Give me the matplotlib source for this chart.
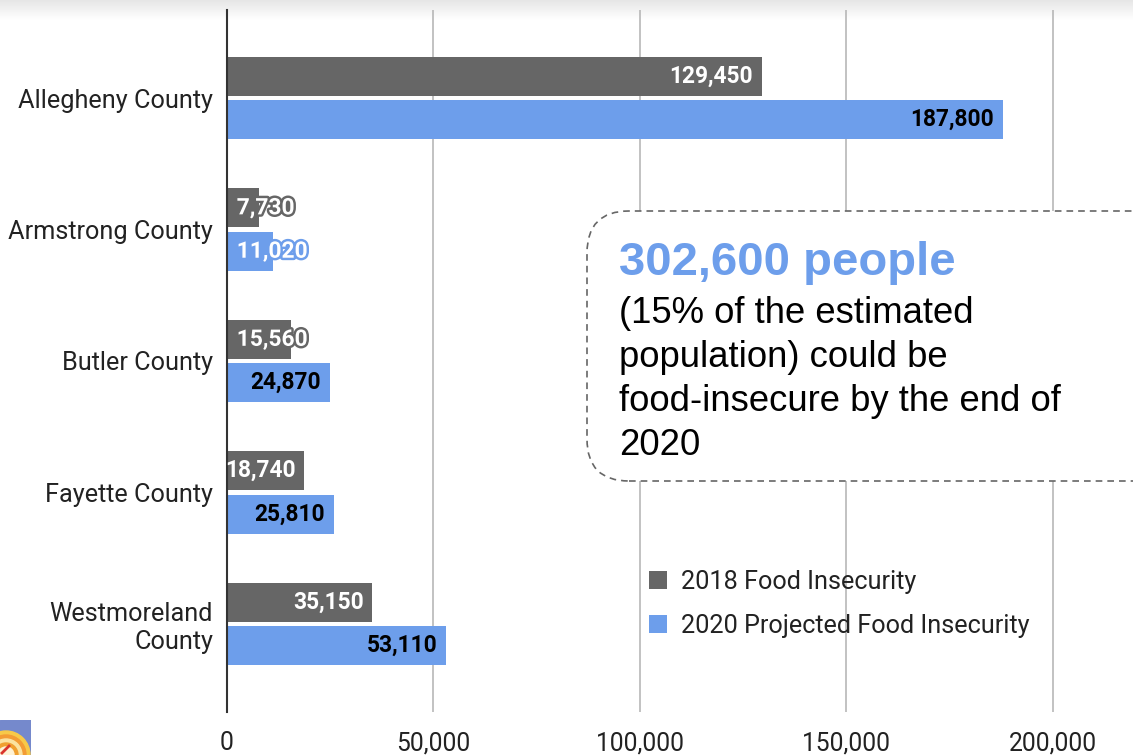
"""Food insecurity by county, 2018 vs projected 2020 (horizontal grouped bars)."""
import matplotlib

matplotlib.use("Agg")
import matplotlib.pyplot as plt
import matplotlib.patheffects as pe
import numpy as np
from matplotlib.patches import FancyBboxPatch, Rectangle, Circle

counties = ["Allegheny County", "Armstrong County", "Butler County",
            "Fayette County", "Westmoreland\nCounty"]
food_2018 = [129450, 7730, 15560, 18740, 35150]
food_2020 = [187800, 11020, 24870, 25810, 53110]
series_names = ["2018 Food Insecurity", "2020 Projected Food Insecurity"]
x_ticks = [0, 50000, 100000, 150000, 200000]
callout_head = "302,600 people"
callout_lines = ["(15% of the estimated", "population) could be",
                 "food-insecure by the end of", "2020"]

GRAY = "#666666"
BLUE = "#6d9eeb"
TXT = "#222222"
W, H, DPI = 1133, 755, 100

plt.rcParams["font.family"] = ["Roboto", "DejaVu Sans"]

fig = plt.figure(figsize=(W / DPI, H / DPI), dpi=DPI)

# faint shadow strip along the top edge
shadow = fig.add_axes([0, 1 - 20 / H, 1, 20 / H])
grad = np.linspace(0.90, 1.0, 50).reshape(-1, 1)
shadow.imshow(grad, cmap="gray", vmin=0, vmax=1, aspect="auto",
              extent=(0, 1, 0, 1), origin="upper")
shadow.axis("off")
shadow.set_zorder(-1)

ax = fig.add_axes([227 / W, 1 - 712 / H, 1 - 227 / W, (712 - 10) / H])
ax.set_facecolor("none")

y = np.arange(len(counties))
h = 0.295
off = 0.165
b1 = ax.barh(y - off, food_2018, height=h, color=GRAY, zorder=2, label=series_names[0])
b2 = ax.barh(y + off, food_2020, height=h, color=BLUE, zorder=2, label=series_names[1])

ax.set_xlim(0, 219400)
ax.set_ylim(len(counties) - 0.33, -0.67)
ax.set_xticks(x_ticks, [f"{v:,}" for v in x_ticks], fontsize=17.7, color=TXT)
ax.set_yticks(y, counties, fontsize=18.2, color=TXT, ha="right")
ax.tick_params(axis="both", length=0)
ax.tick_params(axis="y", pad=10)
ax.tick_params(axis="x", pad=14)
ax.grid(axis="x", color="#b7b7b7", lw=1.2)
ax.set_axisbelow(True)
for s in ["top", "right", "bottom"]:
    ax.spines[s].set_visible(False)
ax.spines["left"].set_color("#333333")
ax.spines["left"].set_linewidth(1.5)

# value labels: inside the bar end when they fit, else outlined near the axis
for bars, vals, face, ink in [(b1, food_2018, GRAY, "white"), (b2, food_2020, BLUE, "black")]:
    for bar, v in zip(bars, vals):
        yc = bar.get_y() + bar.get_height() / 2
        if v > 17000:
            ax.annotate(f"{v:,}", (v, yc), xytext=(-6, 0), textcoords="offset points",
                        ha="right", va="center", fontsize=16.4, fontweight="bold",
                        color=ink, zorder=4)
        else:
            ax.annotate(f"{v:,}", (0, yc), xytext=(7, 0), textcoords="offset points",
                        ha="left", va="center", fontsize=16.4, fontweight="bold",
                        color="white", zorder=4,
                        path_effects=[pe.withStroke(linewidth=3.5, foreground=face)])

ax.legend(handles=[b1, b2], loc="upper left", bbox_to_anchor=(626 / W, 1 - 547 / H),
          bbox_transform=fig.transFigure, frameon=False, fontsize=18.2,
          handlelength=0.72, handleheight=0.72, handletextpad=0.55,
          labelspacing=0.8, labelcolor=TXT)

# dashed callout box (runs off the right edge)
box = FancyBboxPatch((587 / DPI, (H - 481) / DPI), 6.0, 2.70,
                     boxstyle="round,pad=0,rounding_size=0.42",
                     transform=fig.dpi_scale_trans, facecolor="white",
                     edgecolor="#666666", lw=1.2, ls=(0, (4, 3)),
                     clip_on=False, zorder=3)
ax.add_patch(box)
fig.text(619 / DPI, (H - 275) / DPI, callout_head, transform=fig.dpi_scale_trans,
         family="Liberation Sans", fontsize=34, fontweight="bold", color=BLUE,
         va="baseline", zorder=5)
for i, line in enumerate(callout_lines):
    fig.text(619 / DPI, (H - 323 - 44 * i) / DPI, line, transform=fig.dpi_scale_trans,
             family="Liberation Sans", fontsize=26.3, color="black",
             va="baseline", zorder=5)

# small logo in the bottom-left corner
logo = fig.add_axes([0, 0, 31 / W, 35 / H])
logo.set_xlim(0, 31)
logo.set_ylim(0, 35)
logo.axis("off")
logo.add_patch(Rectangle((0, 0), 31, 35, color="#7589cc"))
for r, c in [(24, "#f7c948"), (20, "#f39c34"), (16, "#fbe3a0"), (12, "#f0a030"), (8, "#fff3d6")]:
    logo.add_patch(Circle((6, 0), r, color=c, clip_on=True))
logo.plot([2, 9], [2, 9], color="#d9342b", lw=2)

fig.savefig("out.png", dpi=DPI)
